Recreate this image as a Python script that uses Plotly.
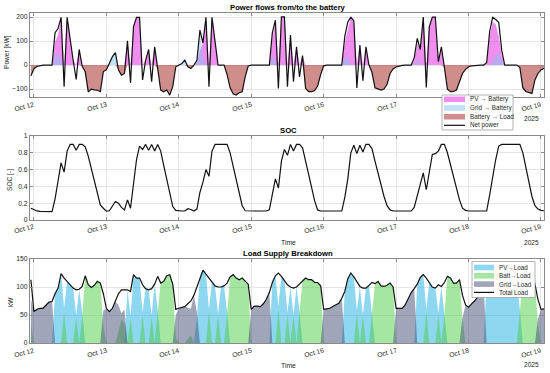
import pandas as pd
import plotly.graph_objects as go

# ---------------- data (hourly, 2025-10-11 23:00 .. 2025-10-19 01:00) ----------------
start_time = "2025-10-11 23:00"

net_power = ([-45]
    + [-15, -6, -2, 0, 0, 0, 0, 135, 152, 199, -90, 199, 100, 20, -60, 65, -5, -28, -112, -100, -103, -105, -111, -27]
    + [-20, 7, 35, 52, -20, -42, -35, 101, -74, 160, 199, 199, -62, 20, 65, -69, 76, -14, -104, -111, -104, -125, -90, -7]
    + [0, 7, 21, -7, -14, 0, 20, 146, 92, 199, -90, 199, 100, 0, 0, 0, -40, -95, -120, -125, -115, -111, -49, -4]
    + [0, 0, 0, 0, 0, 0, 0, 135, 187, -97, 201, 201, -90, 125, -69, 76, -49, 40, -97, -111, -111, -106, -87, -40]
    + [-3, 0, 0, 0, 0, 0, 0, 120, 180, 199, 185, -95, 83, -65, 76, 0, -30, -95, -100, -104, -100, -80, -35, -16]
    + [-8, -3, -1, 0, 0, 0, 30, 111, 65, 200, -93, 160, 200, 200, 14, 76, -10, -100, -111, -110, -104, -69, -35, -18]
    + [-8, -3, -1, 0, 0, 0, 10, 140, 199, 190, 178, 60, 0, 0, 0, 0, 0, -10, -95, -110, -113, -118, -62, -35]
    + [-20, -13])

pv_to_batt = ([0]
    + [0, 0, 0, 0, 0, 0, 0, 95, 125, 199, 0, 199, 100, 20, 0, 65, 0, 0, 0, 0, 0, 0, 0, 0]
    + [0, 0, 0, 0, 0, 0, 0, 101, 0, 160, 199, 199, 0, 20, 65, 0, 76, 0, 0, 0, 0, 0, 0, 0]
    + [0, 0, 0, 0, 0, 0, 10, 60, 92, 199, 0, 199, 100, 0, 0, 0, 0, 0, 0, 0, 0, 0, 0, 0]
    + [0, 0, 0, 0, 0, 0, 0, 110, 187, 0, 201, 201, 0, 125, 0, 76, 0, 40, 0, 0, 0, 0, 0, 0]
    + [0, 0, 0, 0, 0, 0, 0, 95, 150, 199, 185, 0, 83, 0, 76, 0, 0, 0, 0, 0, 0, 0, 0, 0]
    + [0, 0, 0, 0, 0, 0, 20, 90, 65, 200, 0, 160, 200, 200, 14, 76, 0, 0, 0, 0, 0, 0, 0, 0]
    + [0, 0, 0, 0, 0, 0, 5, 120, 180, 170, 120, 40, 0, 0, 0, 0, 0, 0, 0, 0, 0, 0, 0, 0]
    + [0, 0])

grid_to_batt = ([0]
    + [0, 0, 0, 0, 0, 0, 0, 40, 50, 15, 0, 0, 0, 0, 0, 0, 0, 0, 0, 0, 0, 0, 0, 0]
    + [0, 7, 35, 52, 0, 0, 0, 0, 0, 0, 0, 0, 0, 0, 0, 0, 0, 0, 0, 0, 0, 0, 0, 0]
    + [0, 7, 21, 0, 0, 0, 15, 140, 30, 0, 0, 0, 0, 0, 0, 0, 0, 0, 0, 0, 0, 0, 0, 0]
    + [0, 0, 0, 0, 0, 0, 0, 35, 20, 0, 0, 0, 0, 0, 0, 0, 0, 0, 0, 0, 0, 0, 0, 0]
    + [0, 0, 0, 0, 0, 0, 0, 30, 35, 0, 0, 0, 0, 0, 0, 0, 0, 0, 0, 0, 0, 0, 0, 0]
    + [0, 0, 0, 0, 0, 0, 0, 25, 0, 0, 0, 0, 0, 0, 0, 0, 0, 0, 0, 0, 0, 0, 0, 0]
    + [0, 0, 0, 0, 0, 0, 0, 0, 15, 40, 48, 20, 0, 0, 0, 0, 0, 0, 0, 0, 0, 0, 0, 0]
    + [0, 0])

batt_to_load_p = ([-45]
    + [-15, -6, -2, 0, 0, 0, 0, 0, 0, 0, 0, 0, 0, 0, 0, 0, -5, -28, -112, -100, -103, -105, -111, -27]
    + [-20, 0, 0, 0, -20, -42, -35, 0, 0, 0, 0, 0, 0, 0, 0, 0, 0, -14, -104, -111, -104, -125, -90, -7]
    + [0, 0, 0, -7, -14, 0, 0, 0, 0, 0, 0, 0, 0, 0, 0, 0, -40, -95, -120, -125, -115, -111, -49, -4]
    + [0, 0, 0, 0, 0, 0, 0, 0, 0, 0, 0, 0, 0, 0, 0, 0, 0, 0, -97, -111, -111, -106, -87, -40]
    + [-3, 0, 0, 0, 0, 0, 0, 0, 0, 0, 0, 0, 0, 0, 0, 0, -30, -95, -100, -104, -100, -80, -35, -16]
    + [-8, -3, -1, 0, 0, 0, 0, 0, 0, 0, 0, 0, 0, 0, 0, 0, -10, -100, -111, -110, -104, -69, -35, -18]
    + [-8, -3, -1, 0, 0, 0, 0, 0, 0, 0, 0, 0, 0, 0, 0, 0, 0, -10, -95, -110, -113, -118, -62, -35]
    + [-20, -13])

soc = ([0.14]
    + [0.12, 0.108, 0.103, 0.10, 0.10, 0.10, 0.10, 0.25, 0.45, 0.68, 0.57, 0.82, 0.90, 0.90, 0.83, 0.90, 0.90, 0.87, 0.76, 0.61, 0.46, 0.31, 0.18, 0.14]
    + [0.105, 0.11, 0.17, 0.22, 0.20, 0.15, 0.12, 0.24, 0.14, 0.40, 0.72, 0.88, 0.84, 0.90, 0.83, 0.90, 0.82, 0.90, 0.82, 0.65, 0.48, 0.32, 0.16, 0.115]
    + [0.107, 0.107, 0.107, 0.135, 0.125, 0.107, 0.13, 0.33, 0.45, 0.60, 0.52, 0.82, 0.90, 0.90, 0.90, 0.90, 0.90, 0.80, 0.64, 0.48, 0.32, 0.17, 0.11, 0.107]
    + [0.107, 0.107, 0.107, 0.107, 0.107, 0.107, 0.12, 0.30, 0.49, 0.38, 0.70, 0.84, 0.77, 0.90, 0.82, 0.90, 0.90, 0.86, 0.70, 0.55, 0.39, 0.23, 0.12, 0.107]
    + [0.107, 0.107, 0.107, 0.107, 0.107, 0.107, 0.107, 0.27, 0.49, 0.80, 0.89, 0.79, 0.89, 0.81, 0.90, 0.90, 0.85, 0.70, 0.55, 0.42, 0.28, 0.17, 0.12, 0.107]
    + [0.107, 0.107, 0.107, 0.107, 0.107, 0.107, 0.15, 0.28, 0.40, 0.56, 0.36, 0.58, 0.78, 0.79, 0.82, 0.90, 0.90, 0.80, 0.66, 0.52, 0.38, 0.24, 0.14, 0.115]
    + [0.107, 0.107, 0.107, 0.107, 0.107, 0.107, 0.107, 0.30, 0.52, 0.72, 0.88, 0.90, 0.90, 0.90, 0.90, 0.90, 0.90, 0.90, 0.80, 0.64, 0.48, 0.28, 0.17, 0.13]
    + [0.115, 0.11])

total_load = ([113]
    + [56, 60, 62, 62, 68, 73, 74, 88, 98, 124, 116, 110, 104, 98, 95, 96, 101, 120, 104, 99, 103, 110, 107, 88]
    + [62, 56, 62, 74, 88, 95, 95, 95, 92, 122, 116, 116, 104, 97, 95, 97, 105, 119, 107, 110, 120, 122, 105, 60]
    + [62, 63, 65, 70, 75, 85, 100, 118, 130, 123, 116, 110, 102, 100, 100, 102, 107, 118, 122, 116, 113, 116, 110, 105]
    + [60, 66, 66, 65, 70, 78, 90, 108, 120, 125, 119, 112, 104, 100, 98, 100, 106, 112, 116, 113, 113, 108, 108, 102]
    + [60, 61, 62, 65, 68, 71, 80, 92, 115, 125, 118, 110, 101, 98, 98, 103, 108, 106, 110, 102, 101, 103, 107, 100]
    + [62, 62, 62, 68, 78, 90, 97, 105, 117, 122, 116, 107, 100, 98, 104, 101, 108, 119, 116, 107, 107, 113, 85, 68]
    + [64, 70, 75, 82, 90, 100, 115, 125, 122, 115, 110, 105, 100, 100, 104, 108, 112, 115, 118, 122, 122, 128, 105, 78]
    + [60, 61])

pv_to_load = ([0]
    + [0, 0, 0, 0, 0, 0, 0, 88, 98, 124, 62, 110, 104, 98, 50, 96, 55, 0, 0, 0, 0, 0, 0, 0]
    + [0, 0, 0, 0, 0, 0, 0, 95, 48, 122, 116, 116, 55, 97, 95, 50, 105, 60, 0, 0, 0, 0, 0, 0]
    + [0, 0, 0, 0, 0, 0, 45, 118, 130, 123, 60, 110, 102, 52, 100, 102, 55, 0, 0, 0, 0, 0, 0, 0]
    + [0, 0, 0, 0, 0, 0, 0, 108, 120, 65, 119, 112, 54, 100, 50, 100, 56, 0, 0, 0, 0, 0, 0, 0]
    + [0, 0, 0, 0, 0, 0, 0, 92, 115, 125, 118, 58, 101, 50, 98, 103, 56, 0, 0, 0, 0, 0, 0, 0]
    + [0, 0, 0, 0, 0, 0, 0, 105, 117, 122, 60, 107, 100, 98, 54, 101, 56, 0, 0, 0, 0, 0, 0, 0]
    + [0, 0, 0, 0, 0, 0, 115, 125, 122, 115, 110, 105, 100, 100, 104, 108, 112, 60, 0, 0, 0, 0, 0, 0]
    + [0, 0])

batt_to_load = ([35]
    + [0, 0, 0, 0, 0, 0, 0, 0, 0, 0, 54, 0, 0, 0, 45, 0, 46, 120, 104, 99, 103, 110, 107, 30]
    + [0, 0, 0, 0, 20, 42, 35, 0, 44, 0, 0, 0, 49, 0, 0, 47, 0, 59, 107, 110, 120, 122, 105, 10]
    + [0, 0, 0, 7, 14, 0, 0, 0, 0, 0, 56, 0, 0, 48, 0, 0, 52, 118, 122, 116, 113, 116, 110, 105]
    + [0, 0, 0, 0, 0, 0, 0, 0, 0, 60, 0, 0, 50, 0, 48, 0, 50, 112, 116, 113, 113, 108, 108, 102]
    + [0, 0, 0, 0, 0, 0, 0, 0, 0, 0, 0, 52, 0, 48, 0, 0, 52, 106, 110, 102, 101, 103, 107, 100]
    + [0, 0, 0, 0, 0, 0, 0, 0, 0, 0, 56, 0, 0, 0, 50, 0, 52, 119, 116, 107, 107, 113, 40, 0]
    + [0, 0, 0, 0, 0, 0, 0, 0, 0, 0, 0, 0, 0, 0, 0, 0, 0, 55, 118, 122, 122, 128, 105, 35]
    + [0, 0])

grid_to_load = ([78]
    + [56, 60, 62, 62, 68, 73, 74, 0, 0, 0, 0, 0, 0, 0, 0, 0, 0, 0, 0, 0, 0, 0, 0, 58]
    + [62, 56, 62, 74, 68, 53, 60, 0, 0, 0, 0, 0, 0, 0, 0, 0, 0, 0, 0, 0, 0, 0, 0, 50]
    + [62, 63, 65, 63, 61, 85, 55, 0, 0, 0, 0, 0, 0, 0, 0, 0, 0, 0, 0, 0, 0, 0, 0, 0]
    + [60, 66, 66, 65, 70, 78, 90, 0, 0, 0, 0, 0, 0, 0, 0, 0, 0, 0, 0, 0, 0, 0, 0, 0]
    + [60, 61, 62, 65, 68, 71, 80, 0, 0, 0, 0, 0, 0, 0, 0, 0, 0, 0, 0, 0, 0, 0, 0, 0]
    + [62, 62, 62, 68, 78, 90, 97, 0, 0, 0, 0, 0, 0, 0, 0, 0, 0, 0, 0, 0, 0, 0, 45, 68]
    + [64, 70, 75, 82, 90, 100, 0, 0, 0, 0, 0, 0, 0, 0, 0, 0, 0, 0, 0, 0, 0, 0, 0, 43]
    + [60, 61])

tick_dates = ["2025-10-12", "2025-10-13", "2025-10-14", "2025-10-15",
              "2025-10-16", "2025-10-17", "2025-10-18", "2025-10-19"]
tick_text = ["Oct 12", "Oct 13", "Oct 14", "Oct 15", "Oct 16", "Oct 17", "Oct 18", "Oct 19"]

time = pd.date_range(start_time, periods=len(net_power), freq="h")

# ---------------- styling ----------------
FONT = "Liberation Sans, Arial, Helvetica, sans-serif"
TXT = "#262626"
AX = "#8a8a8a"
GRID = "#e4e4e4"
W, H = 550, 373
PL, PR, PT, PB = 30, 544, 13, 343

def px(x):
    return (x - PL) / (PR - PL)

def py(y):
    return (PB - y) / (PB - PT)

C_PV_B = "rgba(225,30,225,0.5)"
C_GR_B = "rgba(130,195,240,0.5)"
C_BA_L = "rgba(160,30,25,0.5)"
C_PV_L = "rgba(30,175,225,0.5)"
C_BT_L = "rgba(75,205,65,0.5)"
C_GR_L = "rgba(65,75,115,0.5)"

fig = go.Figure()

def area(y, color, xa, ya):
    fig.add_trace(go.Scatter(x=time, y=y, mode="lines", fill="tozeroy",
                             line=dict(width=0), fillcolor=color,
                             xaxis=xa, yaxis=ya, hoverinfo="skip", showlegend=False))

def line(y, xa, ya):
    fig.add_trace(go.Scatter(x=time, y=y, mode="lines",
                             line=dict(color="#111111", width=1.2),
                             xaxis=xa, yaxis=ya, showlegend=False))

area(pv_to_batt, C_PV_B, "x", "y")
area(grid_to_batt, C_GR_B, "x", "y")
area(batt_to_load_p, C_BA_L, "x", "y")
line(net_power, "x", "y")

line(soc, "x2", "y2")

area(pv_to_load, C_PV_L, "x3", "y3")
area(batt_to_load, C_BT_L, "x3", "y3")
area(grid_to_load, C_GR_L, "x3", "y3")
line(total_load, "x3", "y3")

x_range = ["2025-10-11 22:42", "2025-10-19 01:00"]

def xcfg(anchor):
    return dict(type="date", range=x_range, domain=[0, 1], anchor=anchor,
                tickvals=tick_dates, ticktext=tick_text, showticklabels=False,
                showgrid=True, gridcolor=GRID, gridwidth=1, automargin=False,
                showline=True, linecolor=AX, linewidth=1, mirror="ticks",
                ticks="inside", ticklen=3, tickcolor=AX, tickwidth=1, zeroline=False)

def ycfg(anchor, rng, dom, tv):
    return dict(range=rng, domain=dom, anchor=anchor, tickvals=tv, automargin=False,
                showgrid=True, gridcolor=GRID, gridwidth=1,
                showline=True, linecolor=AX, linewidth=1, mirror="ticks",
                ticks="inside", ticklen=3, tickcolor=AX, tickwidth=1,
                tickfont=dict(family=FONT, size=6.8, color=TXT), zeroline=False)

fig.update_layout(
    width=W, height=H, margin=dict(l=PL, r=W - PR, t=PT, b=H - PB, pad=0),
    paper_bgcolor="white", plot_bgcolor="white", showlegend=False,
    xaxis=xcfg("y"), xaxis2=xcfg("y2"), xaxis3=xcfg("y3"),
    yaxis=ycfg("x", [-133, 217], [py(97), py(13)], [-100, 0, 100, 200]),
    yaxis2=ycfg("x2", [0, 1], [py(220), py(136)], [0, 0.2, 0.4, 0.6, 0.8, 1]),
    yaxis3=ycfg("x3", [0, 150], [py(343), py(259)], [0, 50, 100, 150]),
)

ann = []
def text(x, y, s, size=6.8, bold=False, angle=0, xanchor="center"):
    ann.append(dict(x=px(x), y=py(y), xref="paper", yref="paper", text=("<b>%s</b>" % s) if bold else s,
                    showarrow=False, xanchor=xanchor, yanchor="middle", textangle=angle,
                    font=dict(family=FONT, size=size, color="#000000" if bold else TXT)))

# rotated date tick labels (right end at the tick)
for xref, ycen, skip in (("x", 106.0, "Oct 18"), ("x2", 228.5, None), ("x3", 352.5, None)):
    for d, lab in zip(tick_dates, tick_text):
        if lab == skip:
            continue  # hidden behind the legend in the reference
        ann.append(dict(x=d, y=py(ycen), xref=xref, yref="paper", text=lab, showarrow=False,
                        xanchor="center", yanchor="middle", textangle=-15, xshift=-9.5,
                        font=dict(family=FONT, size=6.8, color=TXT)))

text(288, 7, "Power flows from/to the battery", 7.7, True)
text(288, 130, "SOC", 7.7, True)
text(288, 253, "Load Supply Breakdown", 7.7, True)
text(7, 52, "Power [kW]", 6.6, angle=-90)
text(10, 180, "SOC [-]", 6.6, angle=-90)
text(10, 302, "kW", 6.6, angle=-90)
text(288, 242, "Time", 6.8)
text(288, 365.5, "Time", 6.8)
for yy in (118.5, 242.5, 364):
    text(531, yy, "2025", 6.6)

shapes = []
def rect(x0, x1, y0, y1, fill, line_color=None, lw=0):
    shapes.append(dict(type="rect", xref="paper", yref="paper", layer="above",
                       x0=px(x0), x1=px(x1), y0=py(y1), y1=py(y0),
                       fillcolor=fill, line=dict(color=line_color or fill, width=lw)))

def seg(x0, x1, y):
    shapes.append(dict(type="line", xref="paper", yref="paper", layer="above",
                       x0=px(x0), x1=px(x1), y0=py(y), y1=py(y),
                       line=dict(color="#111111", width=1.2)))

# legend 1
rect(442, 513, 95, 130, "white", "#a0a0a0", 0.8)
rows1 = [(99.3, C_PV_B, "PV → Battery"), (108.0, C_GR_B, "Grid → Battery"),
         (116.7, C_BA_L, "Battery → Load"), (125.3, None, "Net power")]
for yy, col, lab in rows1:
    if col:
        rect(444, 465, yy - 2.8, yy + 2.8, col)
    else:
        seg(444, 465, yy)
    text(467.5, yy, lab, 6.3, xanchor="left")

# legend 3
rect(472, 535, 261.5, 297.5, "white", "#a0a0a0", 0.8)
rows3 = [(267.5, C_PV_L, "PV→Load"), (275.8, C_BT_L, "Batt→Load"),
         (284.1, C_GR_L, "Grid→Load"), (292.4, None, "Total Load")]
for yy, col, lab in rows3:
    if col:
        rect(474, 494, yy - 2.8, yy + 2.8, col)
    else:
        seg(474, 494, yy)
    text(497, yy, lab, 6.3, xanchor="left")

fig.update_layout(annotations=ann, shapes=shapes)
fig.write_html("out.html", config={"displayModeBar": False},
               post_script="document.body.style.margin='0';document.body.style.padding='0';")
